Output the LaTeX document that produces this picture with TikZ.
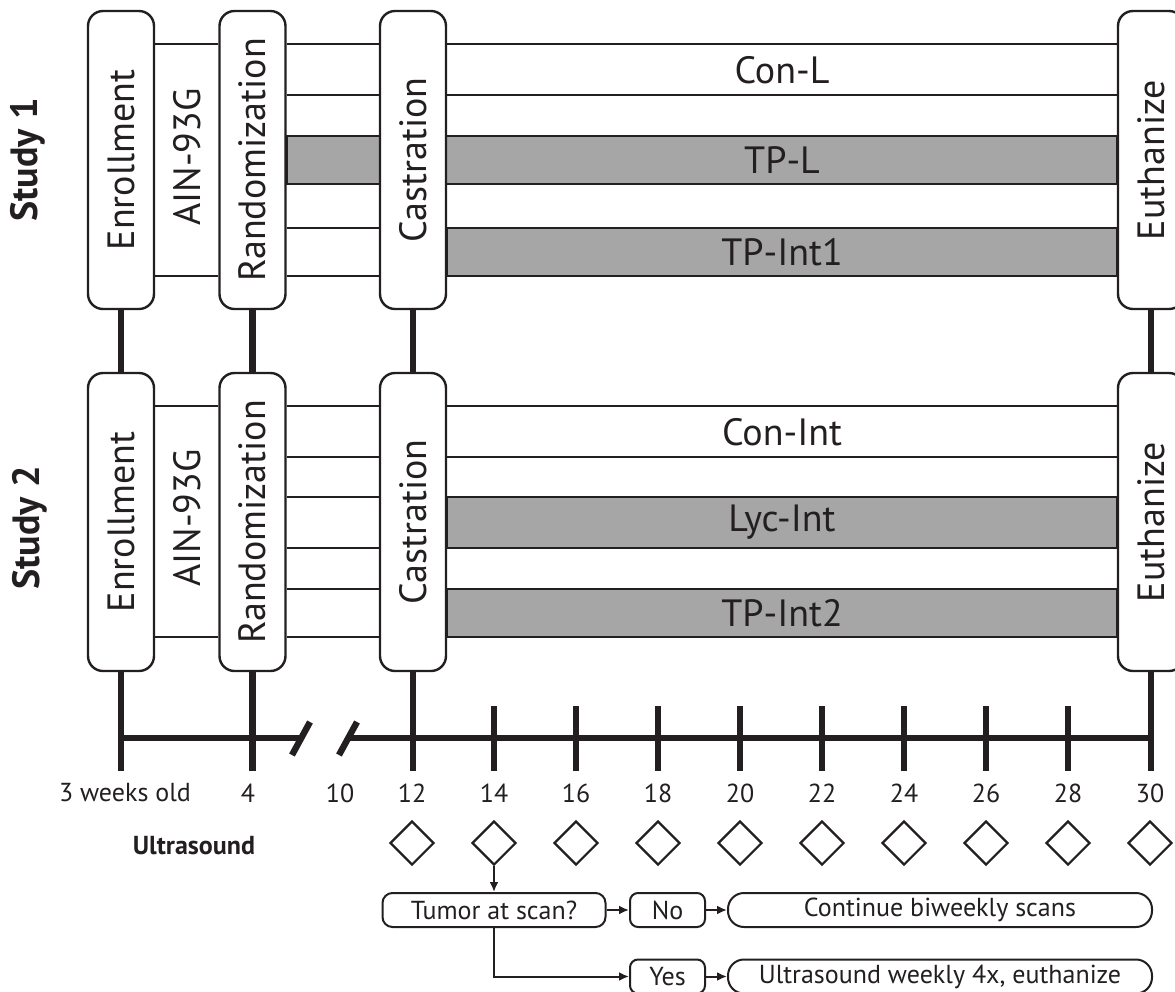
\documentclass[tikz,border=0pt]{standalone}
\usepackage{fontspec}
\setmainfont{PT Sans}
\usetikzlibrary{shapes.geometric,arrows.meta,positioning,calc,backgrounds}
\usepackage{xcolor}
\definecolor{Ink}{RGB}{35,31,32}
\definecolor{Band}{RGB}{166,166,166}
\newcommand{\vt}[1]{\rotatebox{90}{#1}}
\newcommand{\bigf}{\fontsize{19}{22}\selectfont}
\newcommand{\smf}{\fontsize{13}{15}\selectfont}
\tikzset{
  phase/.style={rectangle,rounded corners=7.5pt,draw=Ink,line width=1.2pt,fill=white,
                font=\bigf,text=Ink,minimum width=33pt,minimum height=149pt,inner sep=0pt},
  grp/.style={font=\bigf,text=Ink,inner sep=1pt},
  hline/.style={draw=Ink,line width=1.1pt},
  band/.style={fill=Band,draw=Ink,line width=1.1pt},
  thk/.style={draw=Ink,line width=3.2pt},
  scan/.style={diamond,draw=Ink,line width=1.1pt,minimum width=22pt,minimum height=22pt,
               inner sep=0pt,aspect=1},
  lab/.style={font=\smf,text=Ink,inner sep=1pt},
  flow/.style={rectangle,draw=Ink,line width=1pt,font=\smf,text=Ink,fill=white,
               minimum height=17pt,inner sep=0pt},
  arr/.style={-{Latex[length=5pt,width=4.5pt]},draw=Ink,line width=1pt},
}

\begin{document}
\begin{tikzpicture}[x=0.5pt,y=-0.5pt]
  \useasboundingbox (0,0) rectangle (1175,992);
  \clip (0,0) rectangle (1175,992);

  % study 1
  \node[font=\bigf\bfseries,text=Ink] (st1) at (28,160) {\vt{Study 1}};
  \node[phase] (enr1) at (121,160) {\vt{Enrollment}};
  \node[grp] (diet1) at (187,157) {\vt{AIN-93G}};
  \node[phase] (rand1) at (252.5,160) {\vt{Randomization}};
  \node[phase] (cast1) at (413,160) {\vt{Castration}};
  \node[phase] (euth1) at (1151,160) {\vt{Euthanize}};

  % study 2
  \node[font=\bigf\bfseries,text=Ink] (st2) at (30,528) {\vt{Study 2}};
  \node[phase] (enr2) at (121,522) {\vt{Enrollment}};
  \node[grp] (diet2) at (187,518) {\vt{AIN-93G}};
  \node[phase] (rand2) at (252.5,522) {\vt{Randomization}};
  \node[phase] (cast2) at (413,522) {\vt{Castration}};
  \node[phase] (euth2) at (1151,522) {\vt{Euthanize}};

  \begin{scope}[on background layer]
    % arms, study 1
    \draw[hline] (enr1.east |- 0,44) -- (rand1.west |- 0,44);
    \draw[hline] (enr1.east |- 0,276) -- (rand1.west |- 0,276);
    \foreach \h in {44,95}
      \draw[hline] (rand1.east |- 0,\h) -- (euth1.west |- 0,\h);
    \foreach \h in {228,276}
      \draw[hline] (rand1.east |- 0,\h) -- (cast1.west |- 0,\h);
    \draw[band] (rand1.east |- 0,136) rectangle (euth1.west |- 0,184);
    \draw[band] (cast1.east |- 0,228) rectangle (euth1.west |- 0,276);
    % arms, study 2
    \draw[hline] (enr2.east |- 0,406) -- (rand2.west |- 0,406);
    \draw[hline] (enr2.east |- 0,637) -- (rand2.west |- 0,637);
    \foreach \h in {406,457}
      \draw[hline] (rand2.east |- 0,\h) -- (euth2.west |- 0,\h);
    \foreach \h in {497,548,589,637}
      \draw[hline] (rand2.east |- 0,\h) -- (cast2.west |- 0,\h);
    \draw[band] (cast2.east |- 0,497) rectangle (euth2.west |- 0,548);
    \draw[band] (cast2.east |- 0,589) rectangle (euth2.west |- 0,637);
  \end{scope}

  \path (cast1.east |- 0,70) -- node[grp] (conl) {Con-L} (euth1.west |- 0,70);
  \path (cast1.east |- 0,160) -- node[grp] (tpl) {TP-L} (euth1.west |- 0,160);
  \path (cast1.east |- 0,252) -- node[grp] (tpint1) {TP-Int1} (euth1.west |- 0,252);
  \path (cast2.east |- 0,432) -- node[grp] (conint) {Con-Int} (euth2.west |- 0,432);
  \path (cast2.east |- 0,522) -- node[grp] (lycint) {Lyc-Int} (euth2.west |- 0,522);
  \path (cast2.east |- 0,613) -- node[grp] (tpint2) {TP-Int2} (euth2.west |- 0,613);

  % time line
  \coordinate (axl) at (0,738);
  \coordinate (base) at (0,771);
  \coordinate (brk1) at (301,738);
  \coordinate (brk2) at (348,738);
  \foreach \s in {enr,rand,cast,euth} {
    \draw[thk] (\s1) -- (\s2);
    \draw[thk] (\s2.south) -- (\s2.south |- base);
  }
  \draw[thk] (enr2.south |- axl) -- (brk1);
  \draw[thk] (brk2) -- (euth2.south |- axl);
  \draw[thk] ($(brk1)+(-9,17)$) -- ($(brk1)+(9,-16)$);
  \draw[thk] ($(brk2)+(-9,17)$) -- ($(brk2)+(9,-16)$);
  \foreach \w in {14,16,...,28}
    \draw[thk] ({412+(\w-12)*41},706) -- ({412+(\w-12)*41},771);

  \node[lab] (l3) at (125,793) {3 weeks old};
  \node[lab] (l4) at (248,793) {4};
  \node[lab] (l10) at (340,793) {10};
  \node[lab,font=\smf\bfseries] (us) at (194,846) {Ultrasound};
  \foreach \w in {12,14,...,30} {
    \node[lab] (l\w) at ({412+(\w-12)*41},793) {\w};
    \node[scan] (d\w) at ({412+(\w-12)*41},843) {};
  }

  % scan decision
  \node[flow,rounded corners=5pt,minimum width=111.5pt] (tumor) at (494,910) {Tumor at scan?};
  \node[flow,rounded corners=4pt,minimum width=37.5pt] (no) at (667.5,910) {No};
  \node[flow,rounded corners=8pt,minimum width=212pt] (cont) at (940,910) {Continue biweekly scans};
  \node[flow,rounded corners=4pt,minimum width=37.5pt] (yes) at (667.5,976.5) {Yes};
  \node[flow,rounded corners=8pt,minimum width=212pt] (usw) at (940,976.5) {Ultrasound weekly 4x, euthanize};
  \draw[arr] (d14.south) -- (tumor.north);
  \draw[arr] (tumor) -- (no);
  \draw[arr] (no) -- (cont);
  \draw[arr] (tumor.south) |- (yes.west);
  \draw[arr] (yes) -- (usw);
\end{tikzpicture}
\end{document}
